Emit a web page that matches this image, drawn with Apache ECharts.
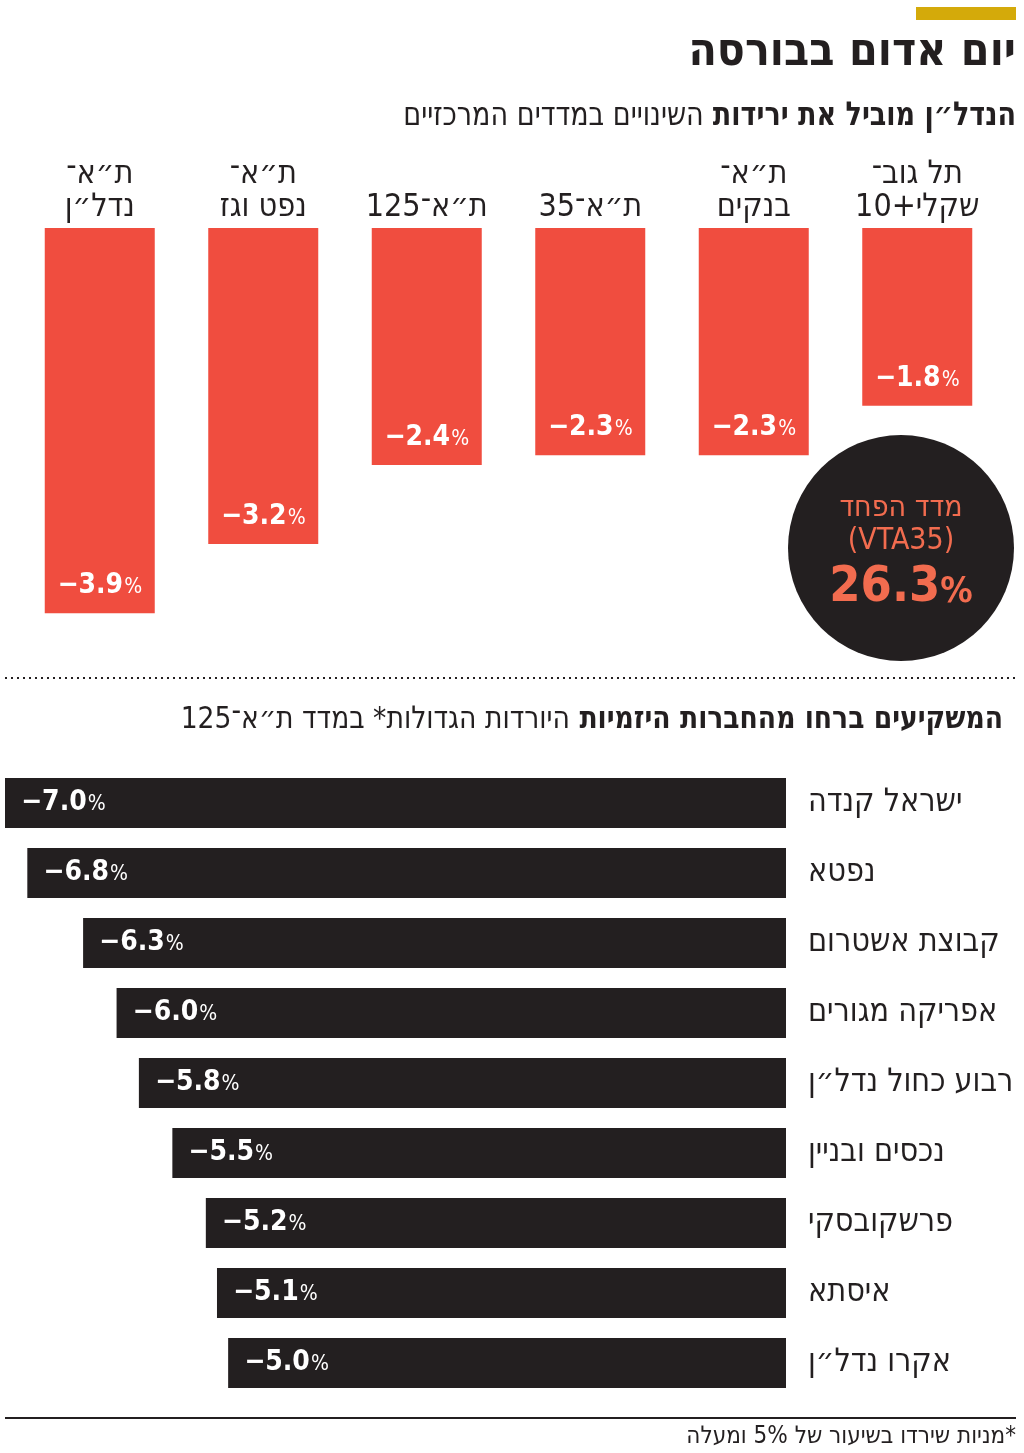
<!DOCTYPE html>
<html>
<head>
<meta charset="utf-8">
<script src="https://cdn.jsdelivr.net/npm/echarts@6/dist/echarts.min.js"></script>
<style>
html,body{margin:0;padding:0;background:#fff;}
#c{width:1024px;height:1453px;}
</style>
</head>
<body>
<div id="c"></div>
<script>
// ---- data ----
const topCategories = ['ת״א־\nנדל״ן', 'ת״א־\nנפט וגז', 'ת״א־125', 'ת״א־35', 'ת״א־\nבנקים', 'תל גוב־\nשקלי+10'];
const topValues = [-3.9, -3.2, -2.4, -2.3, -2.3, -1.8];
const companies = ['ישראל קנדה', 'נפטא', 'קבוצת אשטרום', 'אפריקה מגורים', 'רבוע כחול נדל״ן', 'נכסים ובניין', 'פרשקובסקי', 'איסתא', 'אקרו נדל״ן'];
const companyValues = [-7.0, -6.8, -6.3, -6.0, -5.8, -5.5, -5.2, -5.1, -5.0];
const fearLabel = ['מדד הפחד', '(VTA35)'];
const fearValue = 26.3;

const FONT = '"Liberation Sans Narrow", "DejaVu Sans Condensed", "Liberation Sans", sans-serif';
const DARK = '#231f20';
const RED = '#f04d3f';
const SALMON = '#f26c4f';

function pctLabel(v) {
  return '{n|−' + Math.abs(v).toFixed(1) + '}{p|%}';
}
const valueRich = {
  n: {fontFamily: FONT, fontSize: 28, color: '#fff', fontWeight: 'bold'},
  p: {fontFamily: FONT, fontSize: 21, color: '#fff', padding: [3, 0, 0, 1]}
};

const chart = echarts.init(document.getElementById('c'), null, {renderer: 'canvas'});
chart.setOption({
  backgroundColor: '#fff',
  animation: false,
  grid: [
    {left: 18, width: 981, top: 228, height: 395},
    {left: 5, width: 781, top: 768, height: 630}
  ],
  xAxis: [
    {gridIndex: 0, type: 'category', position: 'top', data: topCategories,
     axisLine: {show: false}, axisTick: {show: false},
     axisLabel: {fontFamily: FONT, fontSize: 32, lineHeight: 33, color: DARK, margin: 4, interval: 0}},
    {gridIndex: 1, type: 'value', min: -7, max: 0, show: false}
  ],
  yAxis: [
    {gridIndex: 0, type: 'value', min: -4, max: 0, show: false},
    {gridIndex: 1, type: 'category', data: companies, inverse: true, position: 'right',
     axisLine: {show: false}, axisTick: {show: false},
     axisLabel: {fontFamily: FONT, fontSize: 32, color: DARK, margin: 22, align: 'left'}}
  ],
  series: [
    {type: 'bar', xAxisIndex: 0, yAxisIndex: 0, data: topValues, barWidth: 110,
     itemStyle: {color: RED},
     label: {show: true, position: 'insideBottom', distance: 13,
       formatter: p => pctLabel(p.value), rich: valueRich}},
    {type: 'bar', xAxisIndex: 1, yAxisIndex: 1, data: companyValues, barWidth: 50,
     itemStyle: {color: DARK},
     label: {show: true, position: 'insideLeft', distance: 16,
       formatter: p => pctLabel(p.value), rich: valueRich}}
  ],
  graphic: [
    {type: 'rect', shape: {x: 916, y: 7, width: 100, height: 13}, style: {fill: '#d4aa0a'}},
    {type: 'text', x: 1016, y: 53, style: {text: 'יום אדום בבורסה', font: 'bold 46px ' + FONT, fill: DARK, align: 'right', verticalAlign: 'middle'}},
    {type: 'text', x: 1016, y: 116, scaleX: 0.91, style: {
      text: '{r|השינויים במדדים המרכזיים}{b|הנדל״ן מוביל את ירידות}', align: 'right', verticalAlign: 'middle',
      rich: {r: {font: '33px ' + FONT, fill: DARK}, b: {font: 'bold 33px ' + FONT, fill: DARK, padding: [0, 0, 0, 10]}}}},
    {type: 'circle', shape: {cx: 901, cy: 548, r: 113}, style: {fill: DARK}},
    {type: 'text', x: 901, y: 508, style: {text: fearLabel[0], font: '30px ' + FONT, fill: SALMON, align: 'center', verticalAlign: 'middle'}},
    {type: 'text', x: 901, y: 541, style: {text: fearLabel[1], font: '30px ' + FONT, fill: SALMON, align: 'center', verticalAlign: 'middle'}},
    {type: 'text', x: 901, y: 588, style: {
      text: '{n|' + fearValue.toFixed(1) + '}{p|%}', align: 'center', verticalAlign: 'middle',
      rich: {n: {font: 'bold 50px ' + FONT, fill: SALMON}, p: {font: 'bold 36px ' + FONT, fill: SALMON, padding: [10, 0, 0, 0]}}}},
    {type: 'line', shape: {x1: 5, y1: 678, x2: 1018, y2: 678}, style: {stroke: DARK, lineWidth: 2, lineDash: [2, 4]}},
    {type: 'text', x: 1003, y: 720, scaleX: 0.955, style: {
      text: '{r|היורדות הגדולות* במדד ת״א־125}{b|המשקיעים ברחו מהחברות היזמיות}', align: 'right', verticalAlign: 'middle',
      rich: {r: {font: '31px ' + FONT, fill: DARK}, b: {font: 'bold 31px ' + FONT, fill: DARK, padding: [0, 0, 0, 10]}}}},
    {type: 'line', shape: {x1: 5, y1: 1418, x2: 1016, y2: 1418}, style: {stroke: DARK, lineWidth: 2}},
    {type: 'text', x: 1016, y: 1437, style: {text: 'מניות שירדו בשיעור של 5% ומעלה*', font: '24px ' + FONT, fill: DARK, align: 'right', verticalAlign: 'middle'}}
  ]
});
</script>
</body>
</html>
